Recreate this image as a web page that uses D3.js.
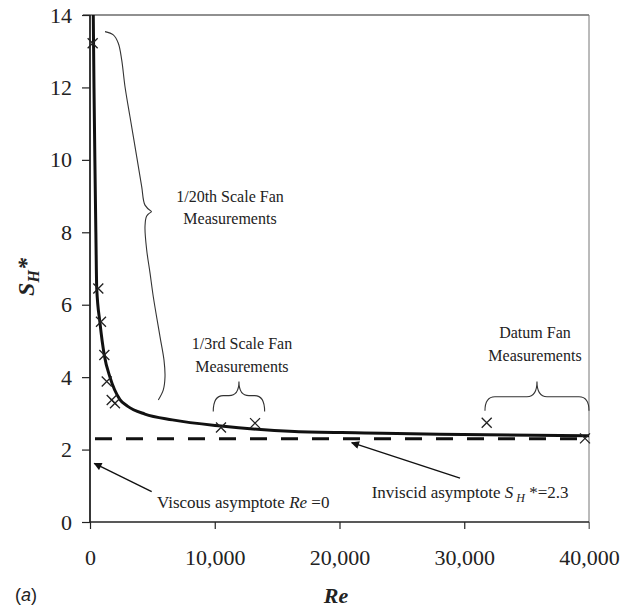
<!DOCTYPE html>
<html>
<head>
<meta charset="utf-8">
<script src="https://cdn.jsdelivr.net/npm/d3@7"></script>
<style>
  html, body { margin: 0; padding: 0; background: #fff; }
  svg { display: block; }
  svg text { fill: #222; }
</style>
</head>
<body>
<svg id="chart" width="631" height="611" font-family="Liberation Serif, serif"></svg>
<script>
// ---------------- DATA ----------------
// Measured points (Re, S_H*)
const measRe = [213, 665, 880, 1150, 1340, 1740, 2000, 10500, 13230, 31800, 39680];
const measS  = [13.22, 6.45, 5.53, 4.61, 3.88, 3.37, 3.28, 2.61, 2.73, 2.74, 2.31];

// Fitted curve
const curveRe = [262, 320, 390, 470, 540, 800, 1150, 1600, 2400, 3000, 4400, 6600, 10500, 16400, 22000, 28000, 40000];
const curveS  = [14.0, 12.0, 10.0, 8.0, 6.45, 5.5, 4.6, 4.0, 3.38, 3.2, 2.98, 2.82, 2.65, 2.5, 2.46, 2.42, 2.38];

// Inviscid asymptote
const inviscidS = 2.3;

// Axis ticks
const xTicks = [0, 10000, 20000, 30000, 40000];
const yTicks = [0, 2, 4, 6, 8, 10, 12, 14];

// Brace for 1/20th scale (data units), upper and lower halves
const brace20UpperRe = [1202, 1868, 2269, 2541, 2806, 3206, 3744, 4144, 4409, 4946];
const brace20UpperS  = [13.54, 13.45, 13.22, 12.76, 12.02, 11.19, 10.09, 9.26, 8.75, 8.57];
const brace20LowerRe = [4946, 4545, 4409, 4545, 4810, 5074, 5611, 5932, 6012, 5876, 5475];
const brace20LowerS  = [8.57, 8.45, 8.16, 7.51, 6.88, 6.22, 5.12, 4.47, 4.01, 3.65, 3.37];

// Horizontal braces: [ReLeft, ReRight, S ends, S flat, S tip]
const brace3  = [9880, 14000, 3.05, 3.49, 3.88];
const braceDatum = [31660, 40000, 3.07, 3.46, 3.88];

// Labels
const labels20 = ["1/20th Scale Fan", "Measurements"];
const labels3 = ["1/3rd Scale Fan", "Measurements"];
const labelsDatum = ["Datum Fan", "Measurements"];

// ---------------- CHART ----------------
const SERIF = "Liberation Serif, Times New Roman, serif";
const svg = d3.select("#chart");
const x = d3.scaleLinear().domain([0, 40000]).range([90, 589]);
const y = d3.scaleLinear().domain([0, 14]).range([522, 15]);

// Frame: top and right
svg.append("line").attr("x1", x(0) - 7).attr("x2", x(40000)).attr("y1", y(14)).attr("y2", y(14))
  .attr("stroke", "#222").attr("stroke-width", 1.2);
svg.append("line").attr("x1", x(40000)).attr("x2", x(40000)).attr("y1", y(14)).attr("y2", y(0) + 7)
  .attr("stroke", "#777").attr("stroke-width", 1);

// Axes
const fmt = d3.format(",");
const xAxis = d3.axisBottom(x).tickValues(xTicks).tickSize(7).tickPadding(20).tickFormat(d => fmt(d));
const yAxis = d3.axisLeft(y).tickValues(yTicks).tickSize(8).tickPadding(10).tickFormat(d => d);

const gx = svg.append("g").attr("transform", `translate(0,${y(0)})`).call(xAxis);
const gy = svg.append("g").attr("transform", `translate(${x(0)},0)`).call(yAxis);
[gx, gy].forEach(g => {
  g.attr("font-family", SERIF).attr("font-size", 22);
  g.select(".domain").remove();
  g.selectAll(".tick line").attr("stroke", "#222").attr("stroke-width", 1.2);
  g.selectAll(".tick text").attr("fill", "#222").attr("font-family", SERIF).attr("font-size", 22);
});
gx.selectAll(".tick").filter(d => d === 40000).select("line").attr("stroke", "#777").attr("stroke-width", 1);
// axis lines
svg.append("line").attr("x1", x(0)).attr("x2", x(0)).attr("y1", y(14)).attr("y2", y(0))
  .attr("stroke", "#222").attr("stroke-width", 1.8);
svg.append("line").attr("x1", x(0)).attr("x2", x(40000)).attr("y1", y(0)).attr("y2", y(0))
  .attr("stroke", "#222").attr("stroke-width", 1.6);

// Dashed inviscid asymptote
svg.append("line").attr("x1", x(0) + 5).attr("x2", x(40000) - 10)
  .attr("y1", y(inviscidS)).attr("y2", y(inviscidS))
  .attr("stroke", "#111").attr("stroke-width", 3).attr("stroke-dasharray", "17,14");

// Curve
const curveData = curveRe.map((r, i) => [r, curveS[i]]);
svg.append("path").datum(curveData)
  .attr("d", d3.line().x(d => x(d[0])).y(d => y(d[1])).curve(d3.curveMonotoneX))
  .attr("fill", "none").attr("stroke", "#111").attr("stroke-width", 3);

// Crosses
const meas = measRe.map((r, i) => [r, measS[i]]);
svg.append("g").selectAll("path").data(meas).join("path")
  .attr("transform", d => `translate(${x(d[0])},${y(d[1])})`)
  .attr("d", "M-5,-5L5,5M-5,5L5,-5")
  .attr("stroke", "#222").attr("stroke-width", 1.3).attr("fill", "none");

// Braces
const braceLine = d3.line().x(d => x(d[0])).y(d => y(d[1])).curve(d3.curveCatmullRom);
[[brace20UpperRe, brace20UpperS], [brace20LowerRe, brace20LowerS]].forEach(([rs, ss]) => {
  svg.append("path").datum(rs.map((r, i) => [r, ss[i]]))
    .attr("d", braceLine).attr("fill", "none").attr("stroke", "#333").attr("stroke-width", 1.1);
});
function hBrace(b) {
  const x1 = x(b[0]), x2 = x(b[1]), ye = y(b[2]), yf = y(b[3]), yt = y(b[4]);
  const xm = (x1 + x2) / 2, r = 10;
  const p = `M${x1},${ye} Q${x1},${yf} ${x1 + r},${yf} L${xm - r},${yf} Q${xm},${yf} ${xm},${yt}` +
            ` Q${xm},${yf} ${xm + r},${yf} L${x2 - r},${yf} Q${x2},${yf} ${x2},${ye}`;
  svg.append("path").attr("d", p).attr("fill", "none").attr("stroke", "#333").attr("stroke-width", 1.1);
}
hBrace(brace3);
hBrace(braceDatum);

// Brace labels
function twoLines(lines, re, s1, s2) {
  [s1, s2].forEach((s, i) => {
    svg.append("text").attr("x", x(re)).attr("y", y(s)).attr("text-anchor", "middle")
      .attr("font-family", SERIF).attr("font-size", 16).text(lines[i]);
  });
}
twoLines(labels20, 11220, 8.85, 8.23);
twoLines(labels3, 12180, 4.78, 4.15);
twoLines(labelsDatum, 35670, 5.08, 4.45);

// Arrows
const defs = svg.append("defs");
defs.append("marker").attr("id", "ah").attr("viewBox", "0 0 10 10").attr("refX", 9).attr("refY", 5)
  .attr("markerWidth", 11).attr("markerHeight", 8).attr("markerUnits", "userSpaceOnUse").attr("orient", "auto")
  .append("path").attr("d", "M0,0L10,5L0,10z").attr("fill", "#111");
svg.append("line").attr("x1", x(4946)).attr("y1", y(0.84)).attr("x2", x(345)).attr("y2", y(1.62))
  .attr("stroke", "#111").attr("stroke-width", 1.4).attr("marker-end", "url(#ah)");
svg.append("line").attr("x1", x(29660)).attr("y1", y(1.21)).attr("x2", x(20980)).attr("y2", y(2.19))
  .attr("stroke", "#111").attr("stroke-width", 1.4).attr("marker-end", "url(#ah)");

// Asymptote labels
const tv = svg.append("text").attr("x", x(5370)).attr("y", y(0.40))
  .attr("font-family", SERIF).attr("font-size", 17);
tv.append("tspan").text("Viscous asymptote ");
tv.append("tspan").attr("font-style", "italic").text("Re");
tv.append("tspan").text(" =0");

const ti = svg.append("text").attr("x", x(22580)).attr("y", y(0.65))
  .attr("font-family", SERIF).attr("font-size", 17);
ti.append("tspan").text("Inviscid asymptote ");
ti.append("tspan").attr("font-style", "italic").text("S");
ti.append("tspan").attr("font-style", "italic").attr("font-size", 12).attr("dy", 4).text(" H");
ti.append("tspan").attr("dy", -4).text(" *=2.3");

// Axis titles
const yl = svg.append("text").attr("transform", `translate(34,277) rotate(-90)`)
  .attr("text-anchor", "middle").attr("font-family", SERIF)
  .attr("font-size", 24).attr("font-weight", "bold").attr("font-style", "italic");
yl.append("tspan").text("S");
yl.append("tspan").attr("font-size", 16).attr("dy", 5).text("H");
yl.append("tspan").attr("dy", -5).text("*");

svg.append("text").attr("x", 336).attr("y", 603).attr("text-anchor", "middle")
  .attr("font-family", SERIF).attr("font-size", 22).attr("font-weight", "bold").attr("font-style", "italic").text("Re");

const ta = svg.append("text").attr("x", 15).attr("y", 601)
  .attr("font-family", "Liberation Sans, Arial, sans-serif").attr("font-size", 18);
ta.append("tspan").text("(");
ta.append("tspan").attr("font-style", "italic").text("a");
ta.append("tspan").text(")");
</script>
</body>
</html>
